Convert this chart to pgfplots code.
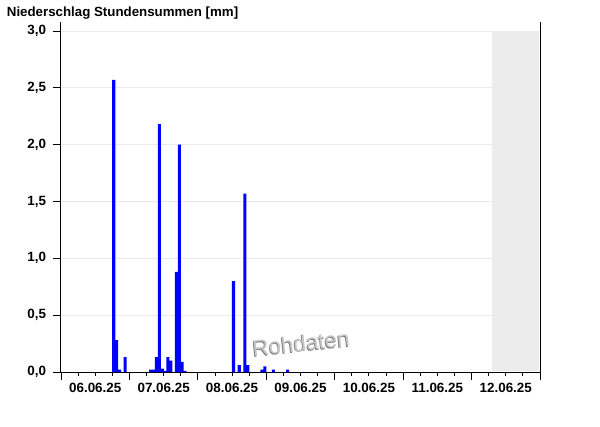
\documentclass[border=0pt]{standalone}
\usepackage{fontspec}
\setmainfont{Liberation Sans}
\usepackage{pgfplots}
\pgfplotsset{compat=1.18}

\definecolor{barblue}{RGB}{0,0,255}
\definecolor{gridgray}{RGB}{234,234,234}
\definecolor{futuregray}{RGB}{236,236,236}

\pgfplotsset{
  layers/barsbelowaxis/.define layer set={
    axis background,axis grid,pre main,main,axis ticks,axis lines,
    axis tick labels,axis descriptions,axis foreground}{},
}

\begin{document}
\begin{tikzpicture}
\begin{axis}[
  set layers=barsbelowaxis,
  scale only axis,
  width=479pt, height=350pt,
  xmin=0, xmax=168,
  ymin=0, ymax=3.079,
  axis x line*=bottom,
  axis y line*=left,
  axis line style={line width=1pt, -},
  tick align=outside,
  tick style={black, line width=0.9pt},
  major tick length=8pt,
  minor tick length=3.5pt,
  % day boundaries as major ticks, labels placed at noon
  xtick={0,24,...,168},
  xticklabels={06.06.25,07.06.25,08.06.25,09.06.25,10.06.25,11.06.25,12.06.25,},
  xticklabel style={xshift=34.21pt},
  minor x tick num=3,
  ytick={0,0.5,...,3.0},
  ymajorgrids,
  y grid style={gridgray, line width=0.8pt},
  tick label style={font=\fontsize{13.4}{13.4}\selectfont\bfseries},
  /pgf/number format/assume math mode=true,
  yticklabel style={xshift=-3.5pt, /pgf/number format/.cd, fixed, fixed zerofill, precision=1, use comma},
  clip=false,
]
% hourly sums: bar centre in hours since 06.06.25 00:00, value in mm
% period without data yet
\addplot[fill=futuregray, draw=none] coordinates {(151,0.01) (151,3.0) (167.7,3.0) (167.7,0.01)} -- cycle;

\addplot[ybar, bar width=1.1, bar shift=0pt, fill=barblue, draw=none] coordinates {
  (18.5,2.57) (19.5,0.28) (20.5,0.02) (22.5,0.13)
  (31.5,0.02) (32.5,0.02) (33.5,0.13) (34.5,2.18) (35.5,0.03) (36.5,0.01)
  (37.5,0.13) (38.5,0.10) (40.5,0.88) (41.5,2.00) (42.5,0.09) (43.5,0.01)
  (60.5,0.80) (62.5,0.06) (64.5,1.57) (65.5,0.06)
  (70.5,0.02) (71.5,0.05) (74.5,0.02) (79.5,0.02)
};

% right frame line
\draw[line width=1pt] (rel axis cs:1,0) -- (rel axis cs:1,1);

% watermark
\node[rotate=6, text=black!55, font=\fontsize{22.5}{22.5}\selectfont] at ([xshift=-0.7pt,yshift=-0.7pt]rel axis cs:0.501,0.082) {Rohdaten};
\node[rotate=6, text=black!22, font=\fontsize{22.5}{22.5}\selectfont] at (rel axis cs:0.501,0.082) {Rohdaten};

% chart title
\node[anchor=base west, font=\fontsize{13.3}{13.3}\selectfont\bfseries, inner sep=0pt]
  at ([xshift=-54.3pt, yshift=5.3pt]rel axis cs:0,1) {Niederschlag Stundensummen [mm]};

\coordinate (bl) at (rel axis cs:0,0);
\coordinate (tr) at (rel axis cs:1,1);
\end{axis}
\path ([shift={(-61pt,-54pt)}]bl) rectangle ([shift={(60pt,22pt)}]tr);
\end{tikzpicture}
\end{document}
